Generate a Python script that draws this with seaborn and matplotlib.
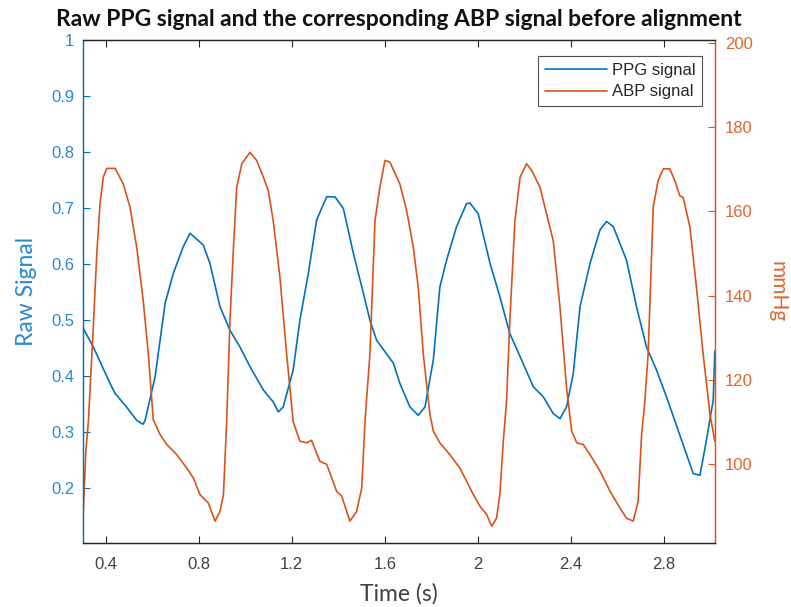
import numpy as np
import pandas as pd
import matplotlib
matplotlib.use("Agg")
import matplotlib.pyplot as plt
import seaborn as sns

# ---- data ----
ppg_t = [0.303, 0.346, 0.418, 0.440, 0.483, 0.533, 0.560, 0.569, 0.612, 0.655, 0.690, 0.733,
         0.762, 0.819, 0.848, 0.891, 0.934, 0.977, 1.020, 1.078, 1.120, 1.142, 1.163, 1.206,
         1.235, 1.271, 1.307, 1.350, 1.386, 1.422, 1.465, 1.508, 1.536, 1.565, 1.637, 1.665,
         1.708, 1.744, 1.773, 1.809, 1.837, 1.866, 1.909, 1.952, 1.966, 2.002, 2.053, 2.095,
         2.138, 2.182, 2.239, 2.282, 2.325, 2.354, 2.382, 2.411, 2.440, 2.483, 2.526, 2.554,
         2.583, 2.640, 2.683, 2.726, 2.769, 2.812, 2.927, 2.956, 2.984, 3.013, 3.020]
ppg_v = [0.485, 0.452, 0.387, 0.369, 0.348, 0.321, 0.314, 0.321, 0.399, 0.530, 0.583, 0.631,
         0.655, 0.634, 0.601, 0.524, 0.482, 0.452, 0.417, 0.375, 0.354, 0.336, 0.345, 0.411,
         0.500, 0.583, 0.679, 0.720, 0.720, 0.699, 0.619, 0.548, 0.500, 0.464, 0.423, 0.387,
         0.345, 0.330, 0.345, 0.429, 0.559, 0.607, 0.667, 0.708, 0.709, 0.690, 0.601, 0.542,
         0.476, 0.435, 0.381, 0.363, 0.333, 0.324, 0.345, 0.405, 0.524, 0.601, 0.661, 0.676,
         0.667, 0.607, 0.524, 0.452, 0.411, 0.363, 0.226, 0.223, 0.286, 0.357, 0.445]

abp_t = [0.303, 0.314, 0.325, 0.346, 0.361, 0.375, 0.389, 0.404, 0.440, 0.475, 0.504, 0.533,
         0.561, 0.583, 0.604, 0.633, 0.662, 0.705, 0.748, 0.776, 0.805, 0.841, 0.870, 0.891,
         0.906, 0.920, 0.934, 0.949, 0.963, 0.985, 1.020, 1.049, 1.078, 1.099, 1.120, 1.149,
         1.178, 1.206, 1.235, 1.264, 1.285, 1.321, 1.350, 1.393, 1.415, 1.450, 1.479, 1.501,
         1.515, 1.536, 1.558, 1.579, 1.601, 1.622, 1.665, 1.694, 1.723, 1.744, 1.766, 1.794,
         1.809, 1.837, 1.880, 1.923, 1.952, 1.981, 2.010, 2.038, 2.060, 2.081, 2.095, 2.110,
         2.124, 2.138, 2.160, 2.182, 2.210, 2.232, 2.268, 2.296, 2.325, 2.354, 2.382, 2.404,
         2.426, 2.454, 2.483, 2.526, 2.569, 2.612, 2.640, 2.669, 2.690, 2.705, 2.719, 2.733,
         2.755, 2.776, 2.798, 2.826, 2.848, 2.869, 2.884, 2.913, 2.941, 2.970, 2.999, 3.020]
abp_v = [88.7, 103.0, 110.2, 132.4, 149.9, 161.8, 168.1, 170.2, 170.2, 166.5, 161.0, 151.4,
         138.7, 126.0, 110.5, 107.0, 104.6, 102.2, 99.0, 96.7, 92.7, 90.7, 86.4, 88.7,
         92.7, 110.2, 134.0, 151.4, 165.7, 171.3, 174.0, 172.1, 168.1, 164.9, 157.8, 144.3,
         126.0, 110.0, 105.4, 105.0, 105.6, 100.6, 99.9, 93.5, 92.3, 86.4, 88.7, 94.3,
         110.2, 126.0, 157.8, 165.7, 172.1, 171.7, 166.5, 160.2, 151.4, 141.9, 126.0, 111.8,
         107.8, 105.0, 102.2, 99.0, 95.9, 92.7, 89.9, 88.0, 85.2, 87.1, 92.7, 105.4,
         114.9, 134.0, 157.8, 168.1, 171.3, 169.7, 165.7, 159.4, 153.0, 137.1, 118.1, 107.8,
         105.0, 104.6, 102.2, 98.3, 93.5, 89.5, 87.1, 86.4, 91.1, 107.0, 114.9, 126.0,
         161.0, 167.3, 170.1, 170.1, 167.3, 163.7, 163.3, 156.2, 141.9, 126.0, 111.8, 105.4]

x_ticks = [0.4, 0.8, 1.2, 1.6, 2.0, 2.4, 2.8]
x_ticklabels = ["0.4", "0.8", "1.2", "1.6", "2", "2.4", "2.8"]
left_ticks = [0.2, 0.3, 0.4, 0.5, 0.6, 0.7, 0.8, 0.9, 1.0]
left_ticklabels = ["0.2", "0.3", "0.4", "0.5", "0.6", "0.7", "0.8", "0.9", "1"]
right_ticks = [100, 120, 140, 160, 180, 200]

BLUE = "#0072BD"
ORANGE = "#D95319"
BLUE_TXT = "#2a88cc"
ORANGE_TXT = "#e0652e"

sns.set_style("white")
plt.rcParams["font.family"] = ["Liberation Sans", "DejaVu Sans"]

fig = plt.figure(figsize=(7.91, 6.07), dpi=100)
ax = fig.add_axes([0.105, 0.1054, 0.799, 0.8287])
ax2 = ax.twinx()

ppg_df = pd.DataFrame({"t": ppg_t, "v": ppg_v})
abp_df = pd.DataFrame({"t": abp_t, "v": abp_v})

sns.lineplot(data=ppg_df, x="t", y="v", ax=ax, color=BLUE, lw=1.2, label="PPG signal", legend=False)
sns.lineplot(data=abp_df, x="t", y="v", ax=ax2, color=ORANGE, lw=1.2, label="ABP signal", legend=False)

ax.set_xlim(0.302, 3.021)
ax.set_ylim(0.102, 1.0)
ax2.set_ylim(81.2, 200.7)

ax.set_xticks(x_ticks)
ax.set_xticklabels(x_ticklabels)
ax.set_yticks(left_ticks)
ax.set_yticklabels(left_ticklabels)
ax2.set_yticks(right_ticks)

ax.tick_params(axis="x", direction="in", length=5, width=0.8, colors="#262626",
               labelsize=12, top=True, bottom=True, pad=10, labelcolor="#404040")
ax.tick_params(axis="y", direction="in", length=5, width=0.8, color=BLUE,
               labelsize=12, labelcolor=BLUE_TXT, pad=6.5, left=True)
ax2.tick_params(axis="y", direction="in", length=5, width=0.8, color=ORANGE,
                labelsize=12, labelcolor=ORANGE_TXT, pad=7, right=True)

for a in (ax, ax2):
    a.spines["top"].set_color("#262626")
    a.spines["bottom"].set_color("#262626")
    a.spines["left"].set_color(BLUE)
    a.spines["right"].set_color(ORANGE)
    for s in a.spines.values():
        s.set_linewidth(0.9)

lab_font = ["Lato", "DejaVu Sans"]
ax.set_xlabel("Time (s)", fontsize=16.5, color="#404040", family=lab_font, labelpad=8)
ax.set_ylabel("Raw Signal", fontsize=16.5, color=BLUE_TXT, family=lab_font, labelpad=10)
ax2.set_ylabel("mmHg", fontsize=15, color=ORANGE_TXT, family=lab_font, rotation=270, labelpad=25)
ax.set_title("Raw PPG signal and the corresponding ABP signal before alignment",
             fontsize=16.5, fontweight="bold", family=lab_font, color="#111111", pad=10)

h1, l1 = ax.get_legend_handles_labels()
h2, l2 = ax2.get_legend_handles_labels()
leg = ax2.legend(h1 + h2, l1 + l2, loc="upper right", bbox_to_anchor=(0.979, 0.968),
                 borderaxespad=0, fontsize=12, frameon=True, fancybox=False, borderpad=0.4,
                 handlelength=3.7, handletextpad=0.3, labelspacing=0.4)
leg.get_frame().set_edgecolor("#262626")
leg.get_frame().set_linewidth(0.8)

fig.savefig("out.png", dpi=100)
